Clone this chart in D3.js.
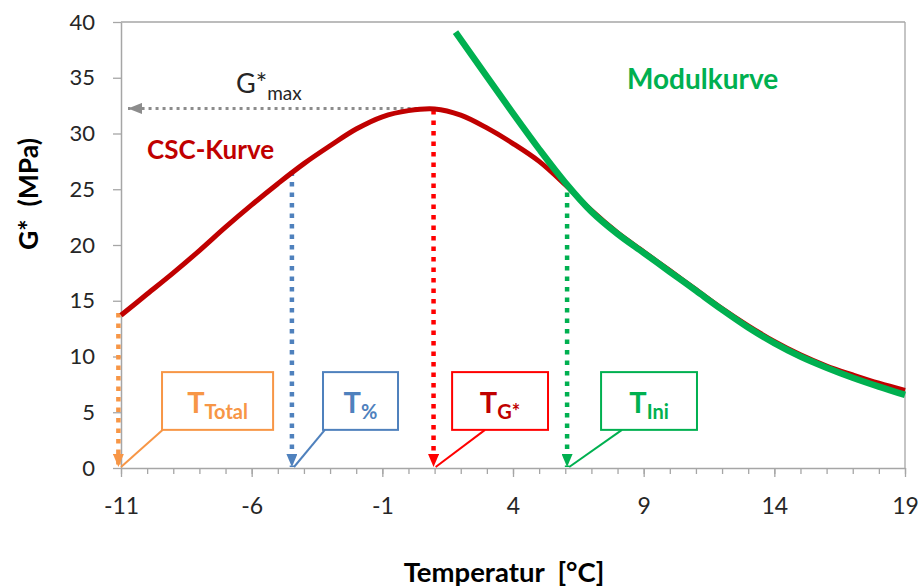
<!DOCTYPE html>
<html>
<head>
<meta charset="utf-8">
<script src="https://cdn.jsdelivr.net/npm/d3@7/dist/d3.min.js"></script>
<style>
  html, body { margin: 0; padding: 0; background: #fff; }
  svg { display: block; }
  text { font-family: Lato, "Open Sans", sans-serif; }
</style>
</head>
<body>
<svg id="chart" width="920" height="588"></svg>
<script>
// Temperature axis ticks and G* axis ticks
const xTickValues = [-11, -6, -1, 4, 9, 14, 19];
const xMinorTicks = d3.range(-11, 20, 1);
const yTickValues = [0, 5, 10, 15, 20, 25, 30, 35, 40];

// CSC curve: G* (MPa) over temperature (°C)
const cscTemp = [-11, -10, -9, -8, -7, -6, -5, -4, -3, -2, -1, 0, 1, 2, 3, 4, 5, 6, 7, 8, 9, 10, 11, 12, 13, 14, 15, 16, 17, 18, 19];
const cscG    = [13.7, 15.6, 17.5, 19.5, 21.6, 23.6, 25.5, 27.3, 28.9, 30.4, 31.5, 32.05, 32.2, 31.65, 30.5, 29.1, 27.5, 25.4, 23.1, 21.1, 19.4, 17.7, 16.0, 14.3, 12.75, 11.35, 10.15, 9.15, 8.35, 7.6, 6.95];

// Modulus curve
const modTemp = [1.8, 4, 5, 6, 7, 8, 9, 10, 11, 12, 13, 14, 15, 16, 17, 18, 19];
const modG    = [39.1, 31.8, 28.6, 25.6, 23.0, 21.0, 19.3, 17.6, 15.9, 14.2, 12.6, 11.2, 10.0, 9.0, 8.1, 7.3, 6.55];

// Characteristic temperatures and the G* level where each drop line starts
const markerNames = ["Total", "%", "G*", "Ini"];
const markerTemp  = [-11.1, -4.46, 0.96, 6.07];
const markerG     = [13.9, 26.6, 32.1, 24.7];
const gMax = 32.25;

const svg = d3.select("#chart");
const x = d3.scaleLinear().domain([-11, 19]).range([121, 905]);
const y = d3.scaleLinear().domain([0, 40]).range([468, 22]);

const axisGray = "#a6a6a6";
const colors = {
  Total: { line: "#f79646", text: "#f79646" },
  "%":   { line: "#4f81bd", text: "#4f81bd" },
  "G*":  { line: "#ff0000", text: "#c00000" },
  Ini:   { line: "#00b050", text: "#00b050" }
};

// Plot frame: top and right edges
svg.append("line").attr("x1", x(-11)).attr("x2", x(19)).attr("y1", y(40)).attr("y2", y(40))
  .attr("stroke", axisGray).attr("stroke-width", 1.3);
svg.append("line").attr("x1", x(19)).attr("x2", x(19)).attr("y1", y(40)).attr("y2", y(0))
  .attr("stroke", axisGray).attr("stroke-width", 1.3);

// Minor ticks on the temperature axis
svg.append("g").attr("transform", `translate(0,${y(0)})`)
  .call(d3.axisBottom(x).tickValues(xMinorTicks).tickSize(6).tickFormat(""))
  .call(g => g.select(".domain").remove())
  .call(g => g.selectAll("line").attr("stroke", axisGray).attr("stroke-width", 1.3));

// Major ticks and labels on the temperature axis
svg.append("g").attr("transform", `translate(0,${y(0)})`)
  .call(d3.axisBottom(x).tickValues(xTickValues).tickSize(9).tickSizeOuter(0).tickPadding(21).tickFormat(d => String(d)))
  .call(g => g.select(".domain").attr("stroke", axisGray).attr("stroke-width", 1.5))
  .call(g => g.selectAll("line").attr("stroke", axisGray).attr("stroke-width", 1.3))
  .call(g => g.selectAll("text").attr("font-family", "'Liberation Serif', serif")
    .attr("font-size", 23).attr("fill", "#262626"));

// G* axis
svg.append("g").attr("transform", `translate(${x(-11)},0)`)
  .call(d3.axisLeft(y).tickValues(yTickValues).tickSize(8).tickSizeOuter(0).tickPadding(18))
  .call(g => g.select(".domain").attr("stroke", axisGray).attr("stroke-width", 1.5))
  .call(g => g.selectAll("line").attr("stroke", axisGray).attr("stroke-width", 1.3))
  .call(g => g.selectAll("text").attr("font-family", "Lato, sans-serif")
    .attr("font-size", 22).attr("fill", "#262626"));

// Axis titles
svg.append("text").attr("x", 504).attr("y", 582).attr("text-anchor", "middle")
  .attr("font-size", 27.5).attr("font-weight", "bold").attr("fill", "#000")
  .style("white-space", "pre").text("Temperatur  [°C]");
svg.append("text").attr("transform", "translate(38,194) rotate(-90)").attr("text-anchor", "middle")
  .attr("font-size", 26.5).attr("font-weight", "bold").attr("fill", "#000")
  .style("white-space", "pre").text("G*  (MPa)");

// Arrow heads
const defs = svg.append("defs");
function arrow(id, color, w, h) {
  defs.append("marker").attr("id", id).attr("viewBox", `0 0 ${h} ${w}`)
    .attr("refX", h).attr("refY", w / 2).attr("markerWidth", h).attr("markerHeight", w)
    .attr("markerUnits", "userSpaceOnUse").attr("orient", "auto")
    .append("path").attr("d", `M0,0 L${h},${w / 2} L0,${w} Z`).attr("fill", color);
}
markerNames.forEach((n, i) => arrow("arr" + i, colors[n].line, 11, 13));
arrow("arrGray", "#8c8c8c", 11, 14);

// Horizontal G*max line
svg.append("line").attr("x1", x(markerTemp[2]) - 2).attr("x2", x(-11) + 7)
  .attr("y1", y(gMax)).attr("y2", y(gMax))
  .attr("stroke", "#8c8c8c").attr("stroke-width", 3).attr("stroke-dasharray", "3,4")
  .attr("marker-end", "url(#arrGray)");

// Drop lines to the temperature axis
markerNames.forEach((n, i) => {
  svg.append("line").attr("x1", x(markerTemp[i])).attr("x2", x(markerTemp[i]))
    .attr("y1", y(markerG[i])).attr("y2", y(0) - 1)
    .attr("stroke", colors[n].line).attr("stroke-width", 4.5).attr("stroke-dasharray", "4.5,6")
    .attr("marker-end", `url(#arr${i})`);
});

// Curves
const line = d3.line().x(d => x(d[0])).y(d => y(d[1])).curve(d3.curveCatmullRom.alpha(0.5));
svg.append("path").datum(d3.zip(cscTemp, cscG)).attr("d", line)
  .attr("fill", "none").attr("stroke", "#c00000").attr("stroke-width", 5).attr("stroke-linejoin", "round");
svg.append("path").datum(d3.zip(modTemp, modG)).attr("d", line)
  .attr("fill", "none").attr("stroke", "#00b050").attr("stroke-width", 6.5).attr("stroke-linejoin", "round");

// Curve labels
svg.append("text").attr("x", 147).attr("y", 159).attr("font-size", 26).attr("font-weight", "bold")
  .attr("fill", "#c00000").text("CSC-Kurve");
svg.append("text").attr("x", 627).attr("y", 89).attr("font-size", 28).attr("font-weight", "bold")
  .attr("fill", "#00b050").text("Modulkurve");

const gm = svg.append("text").attr("x", 236).attr("y", 93).attr("fill", "#262626");
gm.append("tspan").attr("font-size", 27).text("G*");
gm.append("tspan").attr("font-size", 19).attr("dy", 7).text("max");

// Callout boxes pointing at each characteristic temperature (box extents in data units)
const callouts = [
  { t0: -9.43, t1: -5.18, tp: -9.4, sub: "Total" },
  { t0: -3.27, t1: -0.40, tp: -3.2, sub: "%" },
  { t0: 1.67,  t1: 5.34,  tp: 2.93, sub: "G*" },
  { t0: 7.37,  t1: 11.04, tp: 8.17, sub: "Ini" }
];
const boxTop = 8.6, boxBottom = 3.42;
callouts.forEach((c, i) => {
  const col = colors[markerNames[i]];
  const tipT = i === 0 ? -11 : markerTemp[i] + 0.08;
  svg.append("line").attr("x1", x(c.tp)).attr("y1", y(boxBottom))
    .attr("x2", x(tipT)).attr("y2", y(0) - 1)
    .attr("stroke", col.line).attr("stroke-width", 2);
  svg.append("rect").attr("x", x(c.t0)).attr("y", y(boxTop))
    .attr("width", x(c.t1) - x(c.t0)).attr("height", y(boxBottom) - y(boxTop))
    .attr("fill", "#fff").attr("stroke", col.line).attr("stroke-width", 2);
  const tx = svg.append("text").attr("x", (x(c.t0) + x(c.t1)) / 2).attr("y", 413)
    .attr("text-anchor", "middle").attr("fill", col.text).attr("font-weight", "bold");
  tx.append("tspan").attr("font-size", 29).text("T");
  tx.append("tspan").attr("font-size", 20).attr("dy", 6).text(c.sub);
});
</script>
</body>
</html>
